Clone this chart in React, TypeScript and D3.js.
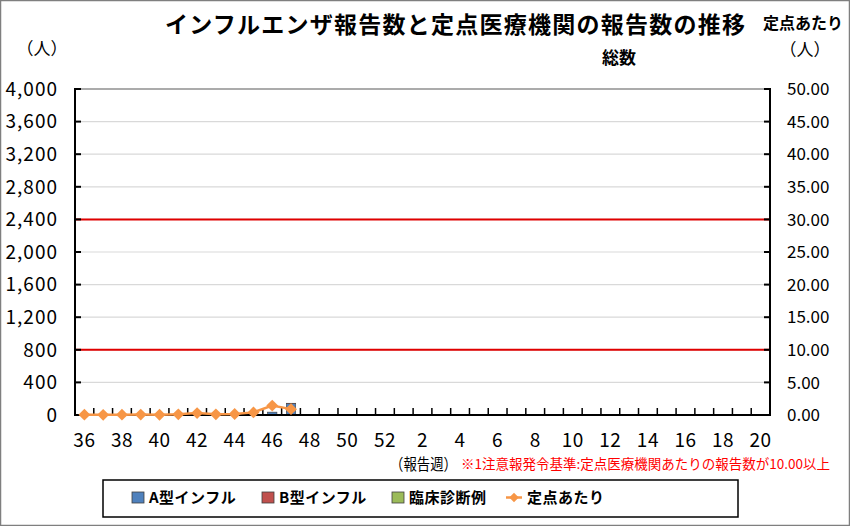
import React from "react";
import * as d3 from "d3";

const weeks = ["36","37","38","39","40","41","42","43","44","45","46","47","48","49","50","51","52","1","2","3","4","5","6","7","8","9","10","11","12","13","14","15","16","17","18","19","20"];
const typeA = [0,0,0,0,0,0,0,0,0,0,35,140];
const typeB = [0,0,0,0,0,0,0,0,0,0,0,4];
const clinical = [0,0,0,0,0,0,0,0,0,0,0,0];
const perSentinel = [0.05,0.03,0.05,0.06,0.04,0.1,0.3,0.1,0.15,0.4,1.45,0.9];
const leftTicks = [0,400,800,1200,1600,2000,2400,2800,3200,3600,4000];
const rightTicks = [0,5,10,15,20,25,30,35,40,45,50];
const alertLines = [800, 2400];
const legendItems = ["A型インフル","B型インフル","臨床診断例","定点あたり"];

const FONT = "'Noto Sans CJK JP', 'Noto Sans', sans-serif";
const BLUE = "#4f81bd", RED = "#c0504d", GREEN = "#9bbb59", ORANGE = "#f79646";

export default function App() {
  const W = 850, H = 526;
  const L = 75, R = 770, T = 89, B = 415;
  const x = d3.scaleBand<string>().domain(weeks).range([L, R]).padding(0);
  const yL = d3.scaleLinear().domain([0, 4000]).range([B, T]);
  const yR = d3.scaleLinear().domain([0, 50]).range([B, T]);
  const bw = x.bandwidth() * 0.5;

  const stackData = typeA.map((a, i) => ({ w: weeks[i], a, b: typeB[i], c: clinical[i] }));
  const series = d3.stack<any>().keys(["a", "b", "c"])(stackData);
  const colors = [BLUE, RED, GREEN];

  const linePts = perSentinel.map((v, i) => [x(weeks[i])! + x.bandwidth() / 2, yR(v)] as [number, number]);
  const lineGen = d3.line();
  const diamond = d3.symbol().type(d3.symbolSquare).size(70)()!;
  const diamondSmall = d3.symbol().type(d3.symbolSquare).size(45)()!;

  const boundaries = d3.range(weeks.length + 1).map(i => L + i * x.bandwidth());

  return (
    <svg width={W} height={H} style={{ position: "fixed", left: 0, top: 0, background: "#fff" }} fontFamily={FONT}>
      <rect x={0.5} y={0.5} width={W - 1} height={H - 1} fill="#fff" stroke="#7f7f7f" strokeWidth={1.5} />
      {/* titles */}
      <text x={165} y={33} textAnchor="start" fontSize={23} fontWeight="bold" fill="#000" textLength={580} lengthAdjust="spacing">インフルエンザ報告数と定点医療機関の報告数の推移</text>
      <text x={803} y={29} textAnchor="middle" fontSize={16} fontWeight="bold" fill="#000">定点あたり</text>
      <text x={805} y={56} textAnchor="middle" fontSize={17} fill="#000">（人）</text>
      <text x={42} y={55} textAnchor="middle" fontSize={17} fill="#000">（人）</text>
      <text x={619} y={64} textAnchor="middle" fontSize={17} fontWeight="bold" fill="#000">総数</text>

      {/* gridlines */}
      {leftTicks.filter(t => t > 0 && t < 4000).map(t => (
        <line key={"g" + t} x1={L} x2={R} y1={yL(t)} y2={yL(t)} stroke="#d9d9d9" strokeWidth={1.2} />
      ))}
      <line x1={L} x2={R} y1={yL(4000)} y2={yL(4000)} stroke="#595959" strokeWidth={1.2} />

      {/* alert lines */}
      {alertLines.map(v => (
        <line key={"a" + v} x1={L} x2={R} y1={yL(v)} y2={yL(v)} stroke="#e00000" strokeWidth={2} />
      ))}

      {/* bars */}
      {series.map((s, si) => s.map((d, i) => {
        const h = yL(d[0]) - yL(d[1]);
        if (h <= 0) return null;
        return <rect key={si + "-" + i} x={x(weeks[i])! + (x.bandwidth() - bw) / 2} y={yL(d[1])} width={bw} height={h} fill={colors[si]} stroke="#404040" strokeWidth={0.6} />;
      }))}

      {/* axes */}
      <line x1={L} x2={L} y1={T - 1} y2={B} stroke="#000" strokeWidth={2} />
      <line x1={R} x2={R} y1={T - 1} y2={B} stroke="#000" strokeWidth={2} />
      <line x1={L - 1} x2={R + 1} y1={B} y2={B} stroke="#000" strokeWidth={2} />
      {leftTicks.map(t => (
        <g key={"l" + t}>
          <line x1={L} x2={L + 6} y1={yL(t)} y2={yL(t)} stroke="#000" strokeWidth={2} />
          <text x={58} y={yL(t)} dy="0.36em" textAnchor="end" fontSize={19} letterSpacing={1} fill="#000">{d3.format(",")(t)}</text>
        </g>
      ))}
      {rightTicks.map(t => (
        <g key={"r" + t}>
          <line x1={R - 6} x2={R} y1={yR(t)} y2={yR(t)} stroke="#000" strokeWidth={2} />
          <text x={787} y={yR(t)} dy="0.36em" textAnchor="start" fontSize={17} fill="#000">{t.toFixed(2)}</text>
        </g>
      ))}
      {boundaries.map((bx, i) => (
        <line key={"b" + i} x1={bx} x2={bx} y1={B} y2={B - 7} stroke="#000" strokeWidth={1.5} />
      ))}
      {weeks.map((w, i) => i % 2 === 0 ? (
        <text key={"x" + w} x={x(w)! + x.bandwidth() / 2} y={440} dy="0.36em" textAnchor="middle" fontSize={19} letterSpacing={0.5} fill="#000">{w}</text>
      ) : null)}

      {/* line */}
      <path d={lineGen(linePts)!} fill="none" stroke={ORANGE} strokeWidth={2.5} />
      {linePts.map((p, i) => (
        <path key={"m" + i} d={diamond} transform={`translate(${p[0]},${p[1]}) rotate(45)`} fill={ORANGE} />
      ))}

      {/* notes */}
      <text x={390} y={464} dy="0.36em" textAnchor="start" fontSize={16} fill="#000" textLength={67} lengthAdjust="spacingAndGlyphs">（報告週）</text>
      <text x={461} y={464} dy="0.36em" textAnchor="start" fontSize={13.5} fill="#ff0000">※1注意報発令基準:定点医療機関あたりの報告数が10.00以上</text>

      {/* legend */}
      <rect x={103} y={480} width={635} height={37} fill="#fff" stroke="#000" strokeWidth={1.5} />
      {[0, 1, 2].map(i => {
        const lx = [132, 262, 392][i];
        return (
          <g key={"lg" + i}>
            <rect x={lx} y={492} width={12} height={11} fill={colors[i]} stroke="#404040" strokeWidth={0.8} />
            <text x={lx + 17} y={497.5} dy="0.36em" fontSize={15} fontWeight="bold" fill="#000" letterSpacing={0.5}>{legendItems[i]}</text>
          </g>
        );
      })}
      <line x1={506} x2={522} y1={497.5} y2={497.5} stroke={ORANGE} strokeWidth={2.5} />
      <path d={diamondSmall} transform="translate(514,497.5) rotate(45)" fill={ORANGE} />
      <text x={527} y={497.5} dy="0.36em" fontSize={15} fontWeight="bold" fill="#000" letterSpacing={0.5}>{legendItems[3]}</text>
    </svg>
  );
}
